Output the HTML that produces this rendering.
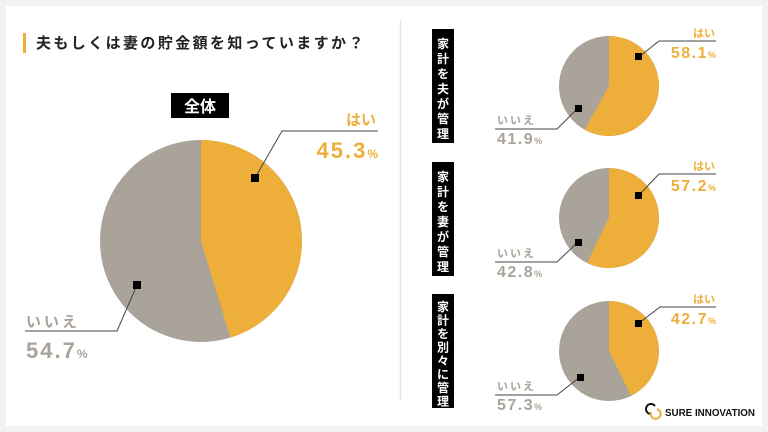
<!DOCTYPE html>
<html><head><meta charset="utf-8"><style>
body{margin:0;background:#f1f1f1;width:768px;height:432px;overflow:hidden}
svg{display:block}
text{font-family:"Liberation Sans","Noto Sans CJK JP",sans-serif}
</style></head><body>
<svg width="768" height="432" viewBox="0 0 768 432">
<rect x="0" y="0" width="768" height="432" fill="#f1f1f1"/>
<rect x="6" y="6" width="756" height="420" fill="#fff"/>
<line x1="400.5" y1="20" x2="400.5" y2="400" stroke="#e6e6e6" stroke-width="1.5"/>
<rect x="23" y="33" width="3" height="20" fill="#eeae3a"/>
<text x="36" y="48" font-size="15" font-weight="bold" letter-spacing="2.4" fill="#222">夫もしくは妻の貯金額を知っていますか？</text>
<rect x="171" y="93" width="58" height="25" fill="#000"/>
<text x="200" y="112" font-size="16" font-weight="bold" fill="#fff" text-anchor="middle">全体</text>
<circle cx="201" cy="241" r="101" fill="#aaa39a"/>
<path d="M201 241 L201 140 A101 101 0 0 1 230.4 337.6 Z" fill="#eeae3a"/>
<polyline points="255,178 282,131 378,131" fill="none" stroke="#444" stroke-width="1"/>
<rect x="251" y="174" width="8" height="8" fill="#000"/>
<text x="376" y="125" font-size="15" fill="#eeae3a" text-anchor="end" font-weight="bold">はい</text>
<text x="378" y="158" font-size="22" font-weight="bold" fill="#eeae3a" text-anchor="end" letter-spacing="2">45.3<tspan font-size="12" letter-spacing="0">%</tspan></text>
<polyline points="137,285 117,331 25,331" fill="none" stroke="#444" stroke-width="1"/>
<rect x="133" y="281" width="8" height="8" fill="#000"/>
<text x="26" y="327" font-size="15" fill="#aaa39a" font-weight="bold" letter-spacing="3">いいえ</text>
<text x="26" y="358" font-size="22" font-weight="bold" fill="#aaa39a" letter-spacing="2">54.7<tspan font-size="12" letter-spacing="0">%</tspan></text>
<g font-weight="bold">
<rect x="432" y="29" width="22" height="114" fill="#000"/>
<text font-size="12" fill="#fff" text-anchor="middle"><tspan x="443" y="48">家</tspan><tspan x="443" y="63">計</tspan><tspan x="443" y="78">を</tspan><tspan x="443" y="93">夫</tspan><tspan x="443" y="108">が</tspan><tspan x="443" y="123">管</tspan><tspan x="443" y="138">理</tspan></text>
</g>
<g font-weight="bold">
<rect x="432" y="162" width="22" height="114" fill="#000"/>
<text font-size="12" fill="#fff" text-anchor="middle"><tspan x="443" y="181">家</tspan><tspan x="443" y="196">計</tspan><tspan x="443" y="211">を</tspan><tspan x="443" y="226">妻</tspan><tspan x="443" y="241">が</tspan><tspan x="443" y="256">管</tspan><tspan x="443" y="271">理</tspan></text>
</g>
<g font-weight="bold">
<rect x="432" y="294" width="22" height="114" fill="#000"/>
<text font-size="12" fill="#fff" text-anchor="middle"><tspan x="443" y="311">家</tspan><tspan x="443" y="324.5">計</tspan><tspan x="443" y="338">を</tspan><tspan x="443" y="351.5">別</tspan><tspan x="443" y="365">々</tspan><tspan x="443" y="378.5">に</tspan><tspan x="443" y="392">管</tspan><tspan x="443" y="405.5">理</tspan></text>
</g>
<circle cx="609" cy="86" r="50" fill="#aaa39a"/>
<path d="M609 86 L609 36 A50 50 0 1 1 584.6 129.7 Z" fill="#eeae3a"/>
<polyline points="639,57 659,41 716,41" fill="none" stroke="#444"/>
<rect x="635" y="53" width="7" height="7" fill="#000"/>
<text x="715" y="37" font-size="11" fill="#eeae3a" text-anchor="end" font-weight="bold">はい</text>
<text x="716" y="58" font-size="16" font-weight="bold" fill="#eeae3a" text-anchor="end" letter-spacing="1.5">58.1<tspan font-size="9" letter-spacing="0">%</tspan></text>
<polyline points="578,108 557,129 495,129" fill="none" stroke="#444"/>
<rect x="575" y="105" width="7" height="7" fill="#000"/>
<text x="497" y="124" font-size="11" fill="#aaa39a" font-weight="bold" letter-spacing="2">いいえ</text>
<text x="497" y="144" font-size="16" font-weight="bold" fill="#aaa39a" letter-spacing="1.5">41.9<tspan font-size="9" letter-spacing="0">%</tspan></text>
<circle cx="609" cy="218" r="50" fill="#aaa39a"/>
<path d="M609 218 L609 168 A50 50 0 1 1 587.1 263 Z" fill="#eeae3a"/>
<polyline points="639,195 659,174 716,174" fill="none" stroke="#444"/>
<rect x="635" y="192" width="7" height="7" fill="#000"/>
<text x="715" y="170" font-size="11" fill="#eeae3a" text-anchor="end" font-weight="bold">はい</text>
<text x="716" y="191" font-size="16" font-weight="bold" fill="#eeae3a" text-anchor="end" letter-spacing="1.5">57.2<tspan font-size="9" letter-spacing="0">%</tspan></text>
<polyline points="578,242 557,262 495,262" fill="none" stroke="#444"/>
<rect x="575" y="239" width="7" height="7" fill="#000"/>
<text x="497" y="257" font-size="11" fill="#aaa39a" font-weight="bold" letter-spacing="2">いいえ</text>
<text x="497" y="277" font-size="16" font-weight="bold" fill="#aaa39a" letter-spacing="1.5">42.8<tspan font-size="9" letter-spacing="0">%</tspan></text>
<circle cx="609" cy="351" r="50" fill="#aaa39a"/>
<path d="M609 351 L609 301 A50 50 0 0 1 631.1 395.8 Z" fill="#eeae3a"/>
<polyline points="639,323 660,307 716,307" fill="none" stroke="#444"/>
<rect x="635" y="320" width="7" height="7" fill="#000"/>
<text x="715" y="303" font-size="11" fill="#eeae3a" text-anchor="end" font-weight="bold">はい</text>
<text x="716" y="324" font-size="16" font-weight="bold" fill="#eeae3a" text-anchor="end" letter-spacing="1.5">42.7<tspan font-size="9" letter-spacing="0">%</tspan></text>
<polyline points="580,377 557,395 495,395" fill="none" stroke="#444"/>
<rect x="577" y="374" width="7" height="7" fill="#000"/>
<text x="497" y="390" font-size="11" fill="#aaa39a" font-weight="bold" letter-spacing="2">いいえ</text>
<text x="497" y="410" font-size="16" font-weight="bold" fill="#aaa39a" letter-spacing="1.5">57.3<tspan font-size="9" letter-spacing="0">%</tspan></text>
<path d="M655 406 A5 5 0 1 0 651 414" fill="none" stroke="#111" stroke-width="2"/>
<path d="M651 412 A5 5 0 1 0 657 409" fill="none" stroke="#eeae3a" stroke-width="2"/>
<text x="665" y="416" font-size="10.5" font-weight="bold" fill="#111" textLength="90" lengthAdjust="spacingAndGlyphs">SURE INNOVATION</text>
</svg>
</body></html>
